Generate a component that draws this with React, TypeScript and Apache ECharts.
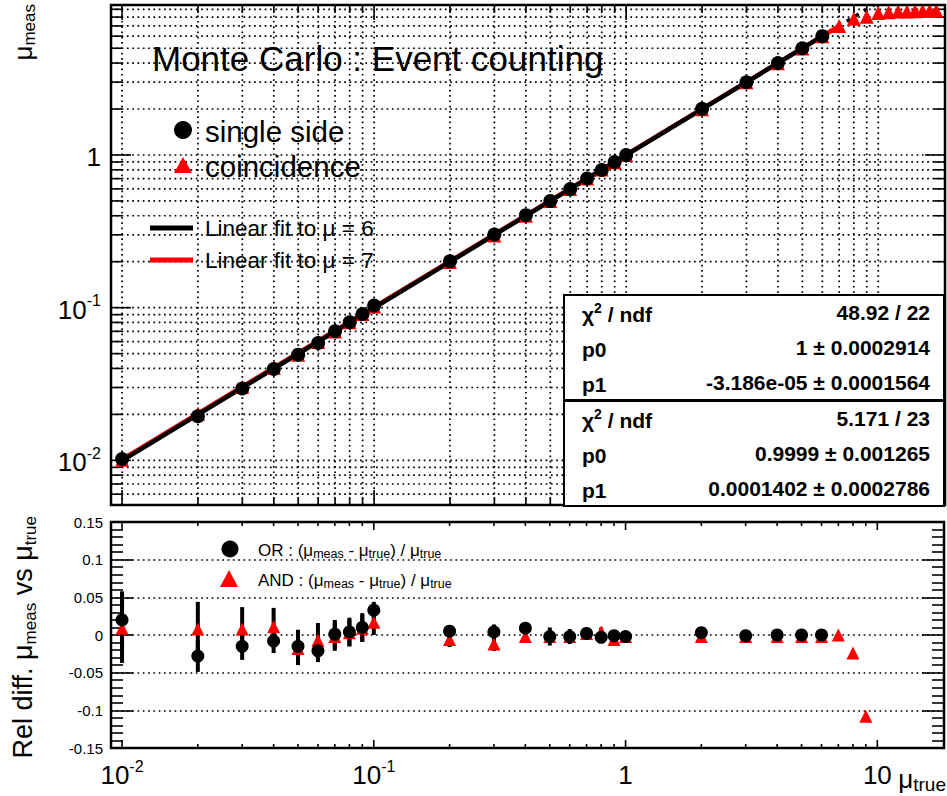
import React, { useEffect, useRef } from 'react';
import * as echarts from 'echarts';

// ---------------- data ----------------
const muTrue = [0.01, 0.02, 0.03, 0.04, 0.05, 0.06, 0.07, 0.08, 0.09, 0.1, 0.2, 0.3, 0.4, 0.5, 0.6, 0.7, 0.8, 0.9, 1, 2, 3, 4, 5, 6];
const orRelDiff = [0.020, -0.028, -0.015, -0.008, -0.015, -0.021, 0.001, 0.004, 0.010, 0.033, 0.005, 0.004, 0.009, -0.002, -0.002, 0.002, -0.003, -0.001, -0.002, 0.003, -0.001, 0.000, 0.000, 0.000];
const orErr = [0.038, 0.021, 0.018, 0.016, 0.022, 0.015, 0.019, 0.019, 0.019, 0.011, 0.008, 0.010, 0.006, 0.012, 0.010, 0.005, 0.005, 0.005, 0.004, 0.003, 0.003, 0.002, 0.002, 0.002];

const andMuTrue = [0.01, 0.02, 0.03, 0.04, 0.05, 0.06, 0.07, 0.08, 0.09, 0.1, 0.2, 0.3, 0.4, 0.5, 0.6, 0.7, 0.8, 0.9, 1, 2, 3, 4, 5, 6, 7, 8, 9];
const andRelDiff = [0.009, 0.008, 0.008, 0.011, -0.018, -0.007, -0.002, 0.003, 0.009, 0.017, -0.006, -0.012, -0.002, -0.002, -0.002, 0.002, 0.004, -0.006, -0.002, -0.002, -0.002, -0.002, -0.002, -0.002, 0.000, -0.024, -0.108];
const andErr = [0.046, 0.036, 0.029, 0.025, 0.022, 0.023, 0.019, 0.018, 0.018, 0.017, 0.010, 0.009, 0.008, 0.007, 0.007, 0.006, 0.006, 0.005, 0.005, 0.003, 0.003, 0.003, 0.002, 0.002, 0.002, 0.002, 0.002];

// coincidence points beyond the plotted relative-difference range (saturating)
const satMuTrue = [10, 11, 12, 13, 14, 15, 16, 17];
const satMuMeas = [8.5, 8.6, 8.7, 8.7, 8.75, 8.8, 8.8, 8.8];

const fitSingle = { p0: 1, p1: -3.186e-5, from: 0.01, to: 6 };
const fitCoinc = { p0: 0.9999, p1: 0.0001402, from: 0.01, to: 7 };

const statSingle: [string, string][] = [['{b|χ}{sup|2}{b| / ndf}', '48.92 / 22'], ['p0', '1 ± 0.0002914'], ['p1', '-3.186e-05 ± 0.0001564']];
const statCoinc: [string, string][] = [['{b|χ}{sup|2}{b| / ndf}', '5.171 / 23'], ['p0', '0.9999 ± 0.001265'], ['p1', '0.0001402 ± 0.0002786']];

const X_MIN = 0.00904, X_MAX = 18.4;
const Y_MIN = 0.0051, Y_MAX = 9.6;
const REL_MIN = -0.15, REL_MAX = 0.15, REL_STEP = 0.05;

// ---------------- helpers ----------------
const FONT = '"Liberation Sans", Arial, Helvetica, sans-serif';

function isPow10(v: number) {
  const l = Math.log10(v);
  return Math.abs(l - Math.round(l)) < 1e-6;
}
function logTicks(lo: number, hi: number) {
  const out: number[] = [];
  for (let e = -3; e <= 2; e++) {
    for (let m = 1; m <= 9; m++) {
      const v = +(m * Math.pow(10, e)).toPrecision(6);
      if (v >= lo && v <= hi) out.push(v);
    }
  }
  return out;
}
function powLabel(v: number) {
  if (!isPow10(v)) return '';
  const e = Math.round(Math.log10(v));
  if (e === 0) return '{b|1}';
  if (e === 1) return '{b|10}';
  return `{b|10}{s|${e}}`;
}
const labelRich = {
  b: { fontSize: 26, fontFamily: FONT, color: '#000', lineHeight: 30, verticalAlign: 'bottom' },
  s: { fontSize: 16, fontFamily: FONT, color: '#000', lineHeight: 16, verticalAlign: 'top' },
};

const DOT = { stroke: '#000', lineWidth: 1.7, lineDash: [1.7, 3.6] };
const TICK = { stroke: '#000', lineWidth: 1.6 };

function xTickRenderer(grid: boolean, majorLen: number, minorLen: number) {
  return (params: any, api: any) => {
    const v = api.value(0);
    const cs = params.coordSys;
    const px = api.coord([v, api.value(1)])[0];
    const len = isPow10(v) ? majorLen : minorLen;
    const children: any[] = [];
    if (grid) children.push({ type: 'line', silent: true, shape: { x1: px, y1: cs.y, x2: px, y2: cs.y + cs.height }, style: DOT });
    children.push({ type: 'line', silent: true, shape: { x1: px, y1: cs.y + cs.height, x2: px, y2: cs.y + cs.height - len }, style: TICK });
    children.push({ type: 'line', silent: true, shape: { x1: px, y1: cs.y, x2: px, y2: cs.y + len }, style: TICK });
    return { type: 'group', children };
  };
}
function yTickRenderer(grid: boolean, majorLen: number, minorLen: number) {
  return (params: any, api: any) => {
    const v = api.value(1);
    const cs = params.coordSys;
    const py = api.coord([api.value(0), v])[1];
    const len = isPow10(v) ? majorLen : minorLen;
    const children: any[] = [];
    if (grid) children.push({ type: 'line', silent: true, shape: { x1: cs.x, y1: py, x2: cs.x + cs.width, y2: py }, style: DOT });
    children.push({ type: 'line', silent: true, shape: { x1: cs.x, y1: py, x2: cs.x + len, y2: py }, style: TICK });
    children.push({ type: 'line', silent: true, shape: { x1: cs.x + cs.width, y1: py, x2: cs.x + cs.width - len, y2: py }, style: TICK });
    return { type: 'group', children };
  };
}
const frameRenderer = (params: any) => {
  const cs = params.coordSys;
  return { type: 'rect', silent: true, shape: { x: cs.x, y: cs.y, width: cs.width, height: cs.height }, style: { fill: 'none', stroke: '#000', lineWidth: 2.5 } };
};
const errRenderer = (params: any, api: any) => {
  const x = api.value(0), y = api.value(1), e = api.value(2);
  const a = api.coord([x, y + e]);
  const b = api.coord([x, y - e]);
  return { type: 'line', silent: true, shape: { x1: a[0], y1: a[1], x2: b[0], y2: b[1] }, style: { stroke: '#000', lineWidth: 4 } };
};

function statBox(x: number, y: number, w: number, h: number, rows: [string, string][]) {
  const rowH = h / 3;
  const out: any[] = [
    { type: 'rect', z: 100, shape: { x, y, width: w, height: h }, style: { fill: '#fff', stroke: '#000', lineWidth: 2 } },
  ];
  rows.forEach((r, i) => {
    const cy = y + rowH * (i + 0.5);
    out.push({
      type: 'text', z: 101, x: x + 18, y: cy,
      style: {
        text: r[0].startsWith('{') ? r[0] : `{b|${r[0]}}`, align: 'left', verticalAlign: 'middle',
        rich: {
          b: { fontSize: 21, fontWeight: 'bold', fontFamily: FONT, fill: '#000', lineHeight: 24, verticalAlign: 'bottom' },
          sup: { fontSize: 14, fontWeight: 'bold', fontFamily: FONT, fill: '#000', lineHeight: 14, verticalAlign: 'top' },
        },
      },
    });
    out.push({
      type: 'text', z: 101, x: x + w - 14, y: cy,
      style: { text: r[1], align: 'right', verticalAlign: 'middle', fontSize: 21, fontWeight: 'bold', fontFamily: FONT, fill: '#000' },
    });
  });
  return out;
}

export default function App() {
  const ref = useRef<HTMLDivElement>(null);

  useEffect(() => {
    if (!ref.current) return;
    const chart = echarts.init(ref.current, undefined, { renderer: 'svg' });

    const xTicks = logTicks(X_MIN, X_MAX);
    const yTicks = logTicks(Y_MIN, Y_MAX);

    const orTop = muTrue.map((m, i) => [m, m * (1 + orRelDiff[i])]);
    const andTop = andMuTrue.map((m, i) => [m, m * (1 + andRelDiff[i])]).concat(satMuTrue.map((m, i) => [m, satMuMeas[i]]));
    const orBot = muTrue.map((m, i) => [m, orRelDiff[i]]);
    const andBot = andMuTrue.map((m, i) => [m, andRelDiff[i]]);
    const errBot = muTrue.map((m, i) => [m, orRelDiff[i], orErr[i]]).concat(andMuTrue.map((m, i) => [m, andRelDiff[i], andErr[i]]));

    const fitLine = (f: typeof fitSingle) => [[f.from, f.p0 * f.from + f.p1], [f.to, f.p0 * f.to + f.p1]];

    const hiddenAxis = { axisLine: { show: false }, axisTick: { show: false }, splitLine: { show: false } };

    const sub = (size: number, pad: number) => ({ fontSize: size, fontFamily: FONT, fill: '#000', lineHeight: size, verticalAlign: 'bottom', padding: [pad, 0, 0, 0] });
    const main = (size: number) => ({ fontSize: size, fontFamily: FONT, fill: '#000', lineHeight: size + 2, verticalAlign: 'top' });

    const option: any = {
      animation: false,
      backgroundColor: '#fff',
      grid: [
        { left: 111, top: 5, width: 834, height: 500 },
        { left: 111, top: 522, width: 834, height: 226 },
      ],
      xAxis: [
        { type: 'log', gridIndex: 0, min: X_MIN, max: X_MAX, ...hiddenAxis, axisLabel: { show: false } },
        {
          type: 'log', gridIndex: 1, min: X_MIN, max: X_MAX, ...hiddenAxis,
          axisLabel: { show: true, margin: 10, formatter: (v: number) => powLabel(v), rich: labelRich },
        },
      ],
      yAxis: [
        {
          type: 'log', gridIndex: 0, min: Y_MIN, max: Y_MAX, ...hiddenAxis,
          axisLabel: { show: true, margin: 10, formatter: (v: number) => powLabel(v), rich: labelRich },
        },
        {
          type: 'value', gridIndex: 1, min: REL_MIN, max: REL_MAX, interval: REL_STEP,
          axisLine: { show: false },
          axisTick: { show: true, inside: true, length: 22, lineStyle: { color: '#000', width: 1.6 } },
          minorTick: { show: true, splitNumber: 5, length: 12, lineStyle: { color: '#000', width: 1.6 } },
          splitLine: { show: true, lineStyle: { color: '#000', width: 1.7, type: [1.7, 3.6] } },
          axisLabel: { show: true, margin: 8, fontSize: 15, fontFamily: FONT, color: '#000' },
        },
        {
          type: 'value', gridIndex: 1, min: REL_MIN, max: REL_MAX, interval: REL_STEP, position: 'right',
          axisLine: { show: false },
          axisTick: { show: true, inside: true, length: 22, lineStyle: { color: '#000', width: 1.6 } },
          minorTick: { show: true, splitNumber: 5, length: 12, lineStyle: { color: '#000', width: 1.6 } },
          splitLine: { show: false },
          axisLabel: { show: false },
        },
      ],
      series: [
        // top panel
        { type: 'custom', xAxisIndex: 0, yAxisIndex: 0, z: 1, silent: true, renderItem: xTickRenderer(true, 15, 8), data: xTicks.map((v) => [v, 1]) },
        { type: 'custom', xAxisIndex: 0, yAxisIndex: 0, z: 1, silent: true, renderItem: yTickRenderer(true, 20, 11), data: yTicks.map((v) => [1, v]) },
        { type: 'line', name: 'Linear fit to μ = 7', xAxisIndex: 0, yAxisIndex: 0, z: 3, showSymbol: false, symbol: 'none', lineStyle: { color: '#ff0000', width: 4.5 }, data: fitLine(fitCoinc) },
        { type: 'line', name: 'Linear fit to μ = 6', xAxisIndex: 0, yAxisIndex: 0, z: 4, showSymbol: false, symbol: 'none', lineStyle: { color: '#000', width: 4.5 }, data: fitLine(fitSingle) },
        { type: 'line', name: 'extension', xAxisIndex: 0, yAxisIndex: 0, z: 4, showSymbol: false, symbol: 'none', lineStyle: { color: '#000', width: 3.5, type: [4, 6] }, data: [[fitSingle.to * 1.25, (fitSingle.to * 1.25) * fitSingle.p0], [Y_MAX, Y_MAX]] },
        { type: 'scatter', name: 'coincidence', xAxisIndex: 0, yAxisIndex: 0, z: 5, symbol: 'triangle', symbolSize: 14, itemStyle: { color: '#ff0000', opacity: 1 }, data: andTop },
        { type: 'scatter', name: 'single side', xAxisIndex: 0, yAxisIndex: 0, z: 6, symbol: 'circle', symbolSize: 14, itemStyle: { color: '#000', opacity: 1 }, data: orTop },
        { type: 'custom', xAxisIndex: 0, yAxisIndex: 0, z: 20, silent: true, renderItem: frameRenderer, data: [[1, 1]] },
        // bottom panel
        { type: 'custom', xAxisIndex: 1, yAxisIndex: 1, z: 1, silent: true, renderItem: xTickRenderer(false, 8, 4), data: xTicks.map((v) => [v, 0]) },
        { type: 'custom', xAxisIndex: 1, yAxisIndex: 1, z: 4, silent: true, renderItem: errRenderer, data: errBot },
        { type: 'scatter', name: 'AND', xAxisIndex: 1, yAxisIndex: 1, z: 5, symbol: 'triangle', symbolSize: 13, itemStyle: { color: '#ff0000', opacity: 1 }, data: andBot },
        { type: 'scatter', name: 'OR', xAxisIndex: 1, yAxisIndex: 1, z: 6, symbol: 'circle', symbolSize: 13, itemStyle: { color: '#000', opacity: 1 }, data: orBot },
        { type: 'custom', xAxisIndex: 1, yAxisIndex: 1, z: 20, silent: true, renderItem: frameRenderer, data: [[1, 0]] },
      ],
      graphic: [
        // title
        { type: 'text', z: 50, x: 152, y: 58, style: { text: 'Monte Carlo : Event counting', fontSize: 35, fontFamily: FONT, fill: '#000', align: 'left', verticalAlign: 'middle' } },
        // top legend
        { type: 'circle', z: 50, shape: { cx: 183, cy: 130, r: 9 }, style: { fill: '#000' } },
        { type: 'text', z: 50, x: 205, y: 131, style: { text: 'single side', fontSize: 29.5, fontFamily: FONT, fill: '#000', align: 'left', verticalAlign: 'middle' } },
        { type: 'polygon', z: 50, shape: { points: [[174, 173], [192, 173], [183, 157]] }, style: { fill: '#ff0000' } },
        { type: 'text', z: 50, x: 205, y: 166, style: { text: 'coincidence', fontSize: 29.5, fontFamily: FONT, fill: '#000', align: 'left', verticalAlign: 'middle' } },
        { type: 'line', z: 50, shape: { x1: 150, y1: 228, x2: 193, y2: 228 }, style: { stroke: '#000', lineWidth: 5 } },
        { type: 'text', z: 50, x: 205, y: 228, style: { text: 'Linear fit to μ = 6', fontSize: 22.5, fontFamily: FONT, fill: '#000', align: 'left', verticalAlign: 'middle' } },
        { type: 'line', z: 50, shape: { x1: 150, y1: 260, x2: 193, y2: 260 }, style: { stroke: '#ff0000', lineWidth: 5 } },
        { type: 'text', z: 50, x: 205, y: 260, style: { text: 'Linear fit to μ = 7', fontSize: 22.5, fontFamily: FONT, fill: '#000', align: 'left', verticalAlign: 'middle' } },
        // stat boxes
        ...statBox(564, 295, 380, 105, statSingle),
        ...statBox(564, 401, 380, 105, statCoinc),
        // bottom legend
        { type: 'circle', z: 50, shape: { cx: 230, cy: 549, r: 8.5 }, style: { fill: '#000' } },
        {
          type: 'text', z: 50, x: 258, y: 551,
          style: { text: '{m|OR : (μ}{s|meas}{m| - μ}{s|true}{m|) / μ}{s|true}', align: 'left', verticalAlign: 'middle', rich: { m: main(17), s: sub(12.5, 13) } },
        },
        { type: 'polygon', z: 50, shape: { points: [[220, 587], [238, 587], [229, 570]] }, style: { fill: '#ff0000' } },
        {
          type: 'text', z: 50, x: 258, y: 581,
          style: { text: '{m|AND : (μ}{s|meas}{m| - μ}{s|true}{m|) / μ}{s|true}', align: 'left', verticalAlign: 'middle', rich: { m: main(17), s: sub(12.5, 13) } },
        },
        // axis titles
        {
          type: 'text', z: 50, x: 24, y: 4, rotation: Math.PI / 2,
          style: { text: '{m|μ}{s|meas}', align: 'right', verticalAlign: 'middle', rich: { m: main(26), s: sub(17, 14) } },
        },
        {
          type: 'text', z: 50, x: 24, y: 516, rotation: Math.PI / 2,
          style: { text: '{m|Rel diff. μ}{s|meas}{m| vs μ}{s|true}', align: 'right', verticalAlign: 'middle', rich: { m: main(27), s: sub(17, 14) } },
        },
        {
          type: 'text', z: 50, x: 946, y: 780,
          style: { text: '{m|μ}{s|true}', align: 'right', verticalAlign: 'middle', rich: { m: main(26), s: sub(19, 12) } },
        },
      ],
    };

    chart.setOption(option);
    return () => chart.dispose();
  }, []);

  return <div ref={ref} style={{ position: 'fixed', left: 0, top: 0, width: 947, height: 796, background: '#fff' }} />;
}
